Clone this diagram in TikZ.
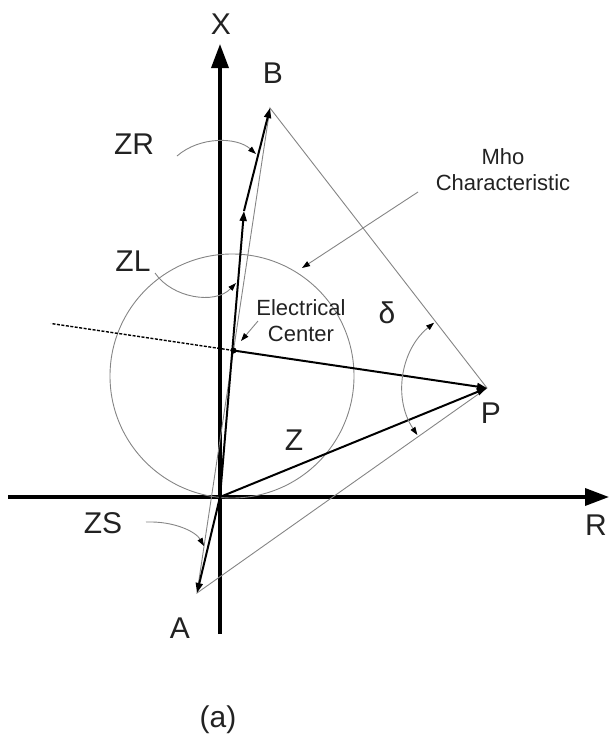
\documentclass[tikz,border=0pt]{standalone}
\usepackage{fontspec}
\setmainfont{Liberation Sans}
\usepackage{tikz}
\usetikzlibrary{arrows.meta,calc}
\definecolor{thingray}{HTML}{858585}
\definecolor{inkgray}{HTML}{222222}

\begin{document}
\begin{tikzpicture}[x=1pt, y=-1pt,
  axis/.style={line width=3.5pt, -{Triangle[length=24pt,width=17pt]}},
  vec/.style={line width=2pt, -{Triangle[length=10pt,width=7pt]}},
  thinline/.style={draw=thingray, line width=0.9pt},
  pointer/.style={draw=thingray, line width=0.9pt, -{Triangle[length=8pt,width=5.5pt,color=black]}},
  biglbl/.style={font=\fontsize{30}{32}\selectfont, text=inkgray, inner sep=0pt},
  smalllbl/.style={font=\fontsize{22}{26}\selectfont, text=inkgray, align=center, inner sep=0pt}
]
  \useasboundingbox (0,0) rectangle (609,734);

  % Points of the impedance plane
  \coordinate (O) at (220,497);
  \coordinate (A) at (197,593);
  \coordinate (B) at (270,108);
  \coordinate (C) at (244,211);
  \coordinate (P) at (487,388);
  \coordinate (EC) at ($(A)!0.5!(B)$);

  % Axes
  \coordinate (xbot) at (220,634);
  \coordinate (xtop) at (220,44);
  \coordinate (rleft) at (8,497);
  \coordinate (rright) at (609,497);
  \draw[axis] (xbot) -- (xtop);
  \draw[axis] (rleft) -- (rright);

  % Mho circle
  \coordinate (mho) at (232,376);
  \draw[thinline] (mho) circle (122);

  % Thin triangle A-B-P
  \draw[thinline] (A) -- (B) -- (P) -- cycle;

  % System impedances
  \draw[vec] (O) -- (A);
  \draw[vec] (O) -- (C);
  \draw[vec] (C) -- (B);
  \draw[vec] (O) -- (P);
  \draw[vec] (EC) -- (P);
  \coordinate (ext) at ($(P)!1.72!(EC)$);
  \draw[line width=1.4pt, dash pattern=on 3pt off 1.5pt] (EC) -- (ext);
  \fill (EC) circle (3);

  % Delta angle
  \draw[thinline, {Triangle[length=8pt,width=5.5pt,color=black]}-{Triangle[length=8pt,width=5.5pt,color=black]}]
    ($(P)+(231:84)$) arc[start angle=231, end angle=146, radius=84];

  % Labels
  \node[biglbl] (xlbl) at (221,24) {X};
  \node[biglbl] (rlbl) at (596,525) {R};
  \node[biglbl] (blbl) at (273,73) {B};
  \node[biglbl] (albl) at (180,628) {A};
  \node[biglbl] (plbl) at (491,413) {P};
  \node[biglbl] (zlbl) at (294,440) {Z};
  \node[biglbl] (dlbl) at (387,313) {δ};
  \node[biglbl] (zr) at (134,144) {ZR};
  \node[biglbl] (zl) at (133,261) {ZL};
  \node[biglbl] (zs) at (103,523) {ZS};
  \node[biglbl] (cap) at (218,720) {(a)};
  \node[smalllbl] (mholbl) at (503,170) {Mho\\Characteristic};
  \node[smalllbl] (eclbl) at (301,321) {Electrical\\Center};

  % Pointers
  \draw[pointer] (177,156) .. controls (200,136) and (237,137) .. (256,154);
  \draw[pointer] (155,273) .. controls (172,298) and (215,305) .. (236,283);
  \draw[pointer] (146,522) .. controls (175,521) and (196,532) .. (204,546);
  \draw[pointer] (418,192) -- (302,268);
  \draw[pointer] (258,321) -- (241,341);

\end{tikzpicture}
\end{document}
